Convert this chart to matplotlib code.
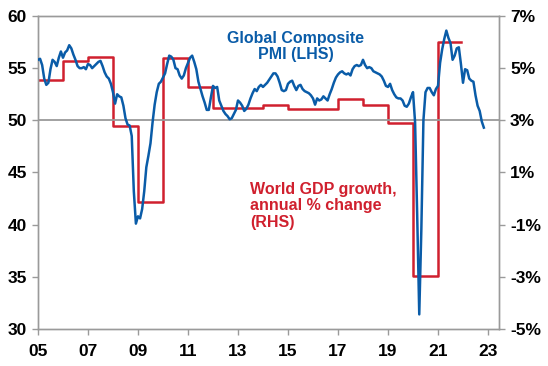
"""Global Composite PMI vs world GDP growth, 2005-2022."""

import matplotlib.pyplot as plt
import numpy as np

plt.rcParams["font.family"] = ["Liberation Sans", "DejaVu Sans"]
plt.rcParams["font.weight"] = "bold"

# monthly Global Composite PMI, Jan 2005 .. Nov 2022
pmi = [
    55.8, 55.9, 55.3, 54.0, 53.4, 53.6, 54.9, 55.8, 55.6, 55.2, 56.0, 56.6,  # 2005
    56.0, 56.5, 56.7, 57.2, 56.9, 56.3, 55.8, 55.2, 55.0, 55.0, 55.1, 54.9,  # 2006
    55.4, 55.3, 55.0, 55.2, 55.4, 55.6, 55.7, 55.2, 54.6, 54.2, 54.0, 53.5,  # 2007
    52.7, 51.6, 52.5, 52.3, 52.2, 51.4, 50.2, 49.6, 49.5, 48.5, 43.2, 40.1,  # 2008
    40.8, 40.6, 41.5, 43.2, 45.5, 46.6, 47.8, 49.8, 51.5, 52.7, 53.5, 53.7,  # 2009
    54.1, 54.5, 55.4, 56.2, 56.1, 55.8, 55.0, 54.9, 54.3, 54.0, 54.3, 55.0,  # 2010
    55.5, 56.0, 56.2, 55.6, 54.9, 53.7, 53.0, 52.3, 51.7, 51.0, 51.0, 52.2,  # 2011
    53.3, 53.1, 53.2, 51.9, 51.4, 50.9, 50.6, 50.4, 50.1, 50.2, 50.6, 51.0,  # 2012
    51.9, 51.7, 51.4, 50.9, 51.1, 51.5, 52.1, 52.6, 53.0, 52.8, 53.2, 53.4,  # 2013
    53.2, 53.4, 53.6, 53.9, 54.2, 54.5, 54.5, 54.2, 53.6, 52.9, 52.8, 52.9,  # 2014
    53.5, 53.7, 53.8, 53.3, 52.9, 53.3, 53.4, 53.0, 52.8, 52.7, 52.6, 52.4,  # 2015
    52.1, 51.5, 52.1, 51.9, 52.0, 52.3, 52.1, 51.9, 52.5, 53.0, 53.6, 54.1,  # 2016
    54.4, 54.6, 54.7, 54.5, 54.4, 54.5, 54.3, 54.9, 55.2, 55.3, 55.2, 55.3,  # 2017
    55.8, 55.3, 55.0, 55.1, 55.0, 54.7, 54.6, 54.5, 54.4, 54.2, 53.8, 53.3,  # 2018
    53.2, 53.5, 52.9, 52.5, 52.2, 52.1, 52.1, 51.9, 51.4, 51.3, 51.6, 52.2,  # 2019
    52.7, 49.8, 41.0, 31.4, 39.5, 50.0, 52.7, 53.1, 53.1, 52.7, 52.4, 53.0,  # 2020
    53.3, 55.5, 56.8, 57.8, 58.6, 57.9, 57.4, 55.8, 56.2, 56.9, 57.0, 55.4,  # 2021
    53.6, 54.9, 54.8, 54.0, 53.8, 53.7, 52.4, 51.4, 50.9, 49.9, 49.3,        # 2022
]

# world GDP growth, annual % change
gdp_years = list(range(2005, 2022))
gdp = [4.56, 5.26, 5.42, 2.79, -0.12, 5.39, 4.29, 3.48, 3.48,
       3.59, 3.42, 3.42, 3.80, 3.59, 2.88, -2.97, 6.02]

x_ticks = list(range(2005, 2024, 2))
x_labels = [f"{y % 100:02d}" for y in x_ticks]
lhs_ticks = [30, 35, 40, 45, 50, 55, 60]
rhs_ticks = [-5, -3, -1, 1, 3, 5, 7]

BLUE = "#0a5ca8"
RED = "#d0202e"
GREY = "#9a9a9a"

fig = plt.figure(figsize=(5.48, 3.66), dpi=100)
ax = fig.add_axes([0.0693, 0.1011, 0.8413, 0.8552])
ax2 = ax.twinx()

months = 2005 + np.arange(len(pmi)) / 12
ax.axhline(50, color=GREY, lw=1.3, zorder=1)
ax.plot(months, pmi, color=BLUE, lw=1.8, zorder=3)

# step line: each annual value held Jan..Dec, last one ends Dec 2021
step_x = gdp_years + [gdp_years[-1] + 11 / 12]
step_y = gdp + [gdp[-1]]
ax2.plot(step_x, step_y, color=RED, lw=1.8, drawstyle="steps-post")

# blue on top of red
ax.set_zorder(ax2.get_zorder() + 1)
ax.patch.set_visible(False)

ax.set_xlim(2005, 2023.44)
ax.set_ylim(30, 60)
ax2.set_ylim(-5, 7)
ax.set_xticks(x_ticks)
ax.set_xticklabels(x_labels)
ax.set_yticks(lhs_ticks)
ax2.set_yticks(rhs_ticks)
ax2.set_yticklabels([f"{v}%" for v in rhs_ticks])

for a in (ax, ax2):
    for sp in a.spines.values():
        sp.set_color(GREY)
        sp.set_linewidth(1.0)
    a.tick_params(colors="black", labelsize=12.5, length=4, width=1.0,
                  color=GREY, pad=4)
ax.tick_params(axis="x", pad=7)

ax.text(2015.3, 57.1, "Global Composite\nPMI (LHS)", color=BLUE,
        fontsize=11.5, fontweight="bold", ha="center", va="center",
        linespacing=1.05)
ax2.text(2013.48, -0.28, "World GDP growth,\nannual % change\n(RHS)",
         color=RED, fontsize=11.5, fontweight="bold", ha="left", va="center",
         linespacing=1.1)

fig.savefig("out.png", dpi=100)
